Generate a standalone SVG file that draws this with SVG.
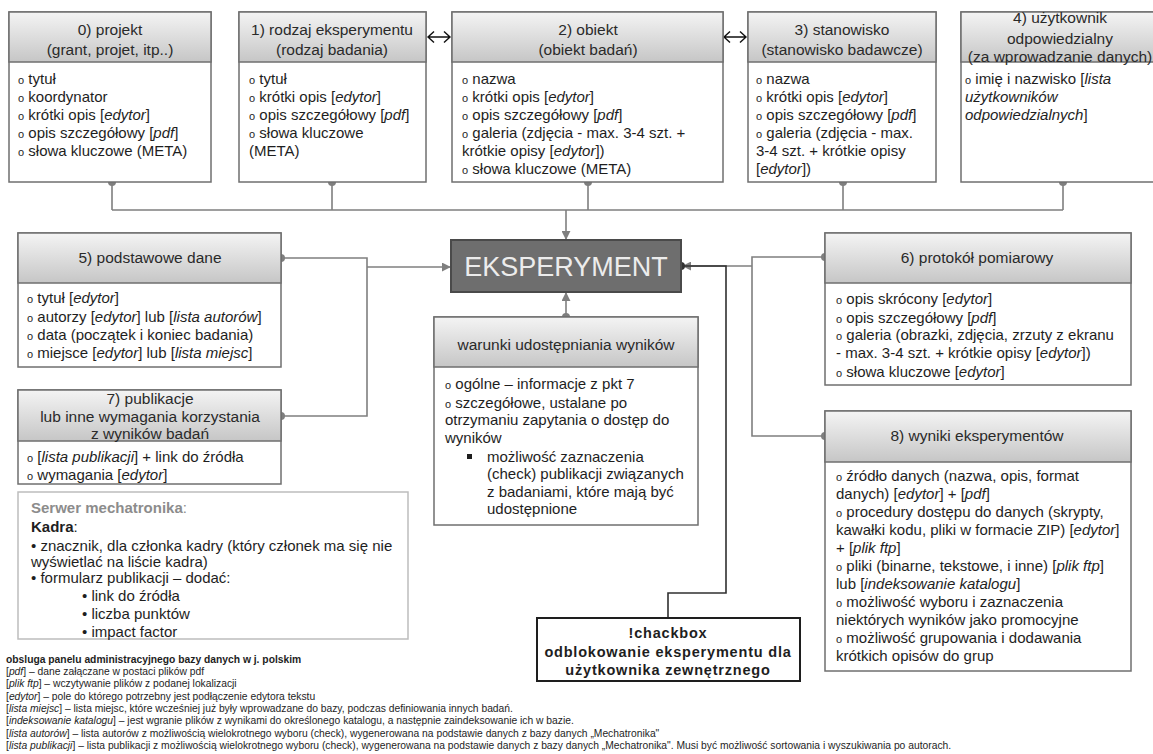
<svg xmlns="http://www.w3.org/2000/svg" width="1153" height="754" viewBox="0 0 1153 754">
<defs>
<linearGradient id="hg" x1="0" y1="0" x2="0" y2="1">
<stop offset="0" stop-color="#f4f4f4"/>
<stop offset="1" stop-color="#c6c6c6"/>
</linearGradient>
<marker id="ar" viewBox="0 0 10 10" refX="9" refY="5" markerWidth="9" markerHeight="9" markerUnits="userSpaceOnUse" orient="auto">
<path d="M0,0 L10,5 L0,10 z" fill="#7f7f7f"/>
</marker>
</defs>
<style>
text{font-family:"Liberation Sans",Arial,sans-serif;fill:#1e1e1e}
.fr{fill:#fff;stroke:#6f6f6f;stroke-width:1.5}
.hd{fill:url(#hg);stroke:#6f6f6f;stroke-width:1.5}
.ht{font-size:15.5px;text-anchor:middle;fill:#2a2a2a}
.bt{font-size:15px}
.o{font-size:11px}
.i{font-style:italic}
.cn{fill:none;stroke:#7f7f7f;stroke-width:1.6}
.dk{fill:none;stroke:#303030;stroke-width:1.6}
.dot{fill:#7f7f7f}
.ft{font-size:10.3px}
.ch{fill:none;stroke:#111;stroke-width:1.4}
.cb{font-size:14.5px;font-weight:bold;text-anchor:middle;letter-spacing:0.8px}
</style>

<g id="connectors">
<path class="cn" d="M112,182 V210 M332,182 V210 M588,182 V210 M843,182 V210 M1063,182 V210 M112,210 H1063"/>
<path class="cn" d="M566,210 V239" marker-end="url(#ar)"/>
<path class="cn" d="M281,258 H367 V416 H281"/>
<path class="cn" d="M367,267 H450" marker-end="url(#ar)"/>
<path class="cn" d="M566,317 V293" marker-end="url(#ar)"/>
<path class="cn" d="M825,257 H752 V436 H825"/>
<path class="cn" d="M752,266 H683" marker-end="url(#ar)"/>
<path class="dk" d="M681,266 H726 V593 H668 V618"/>
<path class="ch" d="M428,37 H450 M434,31.5 L428,37 L434,42.5 M444,31.5 L450,37 L444,42.5"/>
<path class="ch" d="M724,37 H746 M730,31.5 L724,37 L730,42.5 M740,31.5 L746,37 L740,42.5"/>
<circle class="dot" cx="112" cy="182" r="4"/>
<circle class="dot" cx="332" cy="182" r="4"/>
<circle class="dot" cx="588" cy="182" r="4"/>
<circle class="dot" cx="843" cy="182" r="4"/>
<circle class="dot" cx="1063" cy="182" r="4"/>
<circle class="dot" cx="281" cy="258" r="4"/>
<circle class="dot" cx="281" cy="416" r="4"/>
<circle class="dot" cx="566" cy="317" r="4"/>
<circle class="dot" cx="825" cy="257" r="4"/>
<circle class="dot" cx="825" cy="436" r="4"/>
<circle cx="681" cy="266" r="4" fill="#333"/>
</g>

<g id="n0">
<rect class="fr" x="9" y="12" width="202" height="170"/>
<rect class="hd" x="9" y="12" width="202" height="50"/>
<text class="ht" x="110" y="35">0) projekt</text>
<text class="ht" x="110" y="55">(grant, projet, itp..)</text>
<text class="bt" x="18" y="84"><tspan class="o">o</tspan> tytuł</text>
<text class="bt" x="18" y="102"><tspan class="o">o</tspan> koordynator</text>
<text class="bt" x="18" y="120"><tspan class="o">o</tspan> krótki opis [<tspan class="i">edytor</tspan>]</text>
<text class="bt" x="18" y="138"><tspan class="o">o</tspan> opis szczegółowy [<tspan class="i">pdf</tspan>]</text>
<text class="bt" x="18" y="156"><tspan class="o">o</tspan> słowa kluczowe (META)</text>
</g>

<g id="n1">
<rect class="fr" x="239" y="12" width="187" height="170"/>
<rect class="hd" x="239" y="12" width="187" height="50"/>
<text class="ht" x="332" y="35">1) rodzaj eksperymentu</text>
<text class="ht" x="332" y="55">(rodzaj badania)</text>
<text class="bt" x="249" y="84"><tspan class="o">o</tspan> tytuł</text>
<text class="bt" x="249" y="102"><tspan class="o">o</tspan> krótki opis [<tspan class="i">edytor</tspan>]</text>
<text class="bt" x="249" y="120"><tspan class="o">o</tspan> opis szczegółowy [<tspan class="i">pdf</tspan>]</text>
<text class="bt" x="249" y="138"><tspan class="o">o</tspan> słowa kluczowe</text>
<text class="bt" x="249" y="156">(META)</text>
</g>

<g id="n2">
<rect class="fr" x="452" y="12" width="271" height="170"/>
<rect class="hd" x="452" y="12" width="271" height="50"/>
<text class="ht" x="588" y="35">2) obiekt</text>
<text class="ht" x="588" y="55">(obiekt badań)</text>
<text class="bt" x="462" y="84"><tspan class="o">o</tspan> nazwa</text>
<text class="bt" x="462" y="102"><tspan class="o">o</tspan> krótki opis [<tspan class="i">edytor</tspan>]</text>
<text class="bt" x="462" y="120"><tspan class="o">o</tspan> opis szczegółowy [<tspan class="i">pdf</tspan>]</text>
<text class="bt" x="462" y="138"><tspan class="o">o</tspan> galeria (zdjęcia - max. 3-4 szt. +</text>
<text class="bt" x="462" y="156">krótkie opisy [<tspan class="i">edytor</tspan>])</text>
<text class="bt" x="462" y="174"><tspan class="o">o</tspan> słowa kluczowe (META)</text>
</g>

<g id="n3">
<rect class="fr" x="748" y="12" width="188" height="170"/>
<rect class="hd" x="748" y="12" width="188" height="50"/>
<text class="ht" x="842" y="35">3) stanowisko</text>
<text class="ht" x="842" y="55">(stanowisko badawcze)</text>
<text class="bt" x="756" y="84"><tspan class="o">o</tspan> nazwa</text>
<text class="bt" x="756" y="102"><tspan class="o">o</tspan> krótki opis [<tspan class="i">edytor</tspan>]</text>
<text class="bt" x="756" y="120"><tspan class="o">o</tspan> opis szczegółowy [<tspan class="i">pdf</tspan>]</text>
<text class="bt" x="756" y="138"><tspan class="o">o</tspan> galeria (zdjęcia - max.</text>
<text class="bt" x="756" y="156">3-4 szt. + krótkie opisy</text>
<text class="bt" x="756" y="174">[<tspan class="i">edytor</tspan>])</text>
</g>

<g id="n4">
<rect class="fr" x="961" y="12" width="210" height="170"/>
<rect class="hd" x="961" y="12" width="210" height="50"/>
<text class="ht" x="1060" y="23">4) użytkownik</text>
<text class="ht" x="1060" y="44">odpowiedzialny</text>
<text class="ht" x="1060" y="62">(za wprowadzanie danych)</text>
<text class="bt" x="965" y="84"><tspan class="o">o</tspan> imię i nazwisko [<tspan class="i">lista</tspan></text>
<text class="bt i" x="965" y="102">użytkowników</text>
<text class="bt" x="965" y="120"><tspan class="i">odpowiedzialnych</tspan>]</text>
</g>

<g id="eksperyment">
<rect x="451" y="240" width="230" height="52" fill="#6e6e6e" stroke="#4a4a4a" stroke-width="2"/>
<text x="566" y="276" font-size="27" text-anchor="middle" style="fill:#ececec">EKSPERYMENT</text>
</g>

<g id="n5">
<rect class="fr" x="18" y="233" width="263" height="134"/>
<rect class="hd" x="18" y="233" width="263" height="50"/>
<text class="ht" x="150" y="263">5) podstawowe dane</text>
<text class="bt" x="27" y="303"><tspan class="o">o</tspan> tytuł [<tspan class="i">edytor</tspan>]</text>
<text class="bt" x="27" y="322"><tspan class="o">o</tspan> autorzy [<tspan class="i">edytor</tspan>] lub [<tspan class="i">lista autorów</tspan>]</text>
<text class="bt" x="27" y="340"><tspan class="o">o</tspan> data (początek i koniec badania)</text>
<text class="bt" x="27" y="358"><tspan class="o">o</tspan> miejsce [<tspan class="i">edytor</tspan>] lub [<tspan class="i">lista miejsc</tspan>]</text>
</g>

<g id="n7">
<rect class="fr" x="18" y="390" width="263" height="94"/>
<rect class="hd" x="18" y="390" width="263" height="51"/>
<text class="ht" x="150" y="404">7) publikacje</text>
<text class="ht" x="150" y="422">lub inne wymagania korzystania</text>
<text class="ht" x="150" y="439">z wyników badań</text>
<text class="bt" x="27" y="462"><tspan class="o">o</tspan> [<tspan class="i">lista publikacji</tspan>] + link do źródła</text>
<text class="bt" x="27" y="480"><tspan class="o">o</tspan> wymagania [<tspan class="i">edytor</tspan>]</text>
</g>

<g id="serwer">
<rect x="18" y="492" width="390" height="147" fill="#fff" stroke="#bdbdbd" stroke-width="1.5"/>
<text class="bt" x="31" y="513"><tspan font-weight="bold" style="fill:#8c8c8c">Serwer mechatronika</tspan><tspan style="fill:#8c8c8c">:</tspan></text>
<text class="bt" x="31" y="532"><tspan font-weight="bold">Kadra</tspan>:</text>
<text class="bt" x="31" y="551">• znacznik, dla członka kadry (który członek ma się nie</text>
<text class="bt" x="31" y="567">wyświetlać na liście kadra)</text>
<text class="bt" x="31" y="583">• formularz publikacji – dodać:</text>
<text class="bt" x="82" y="601">• link do źródła</text>
<text class="bt" x="82" y="619">• liczba punktów</text>
<text class="bt" x="82" y="637">• impact factor</text>
</g>

<g id="warunki">
<rect class="fr" x="434" y="317" width="264" height="208"/>
<rect class="hd" x="434" y="317" width="264" height="50"/>
<text class="ht" x="566" y="350">warunki udostępniania wyników</text>
<text class="bt" x="445" y="389"><tspan class="o">o</tspan> ogólne – informacje z pkt 7</text>
<text class="bt" x="445" y="408"><tspan class="o">o</tspan> szczegółowe, ustalane po</text>
<text class="bt" x="445" y="425">otrzymaniu zapytania o dostęp do</text>
<text class="bt" x="445" y="443">wyników</text>
<rect x="467" y="454" width="5" height="5" fill="#1e1e1e"/>
<text class="bt" x="487" y="462">możliwość zaznaczenia</text>
<text class="bt" x="487" y="479">(check) publikacji związanych</text>
<text class="bt" x="487" y="497">z badaniami, które mają być</text>
<text class="bt" x="487" y="514">udostępnione</text>
</g>

<g id="n6">
<rect class="fr" x="825" y="233" width="306" height="152"/>
<rect class="hd" x="825" y="233" width="306" height="50"/>
<text class="ht" x="977" y="263">6) protokół pomiarowy</text>
<text class="bt" x="836" y="304"><tspan class="o">o</tspan> opis skrócony [<tspan class="i">edytor</tspan>]</text>
<text class="bt" x="836" y="323"><tspan class="o">o</tspan> opis szczegółowy [<tspan class="i">pdf</tspan>]</text>
<text class="bt" x="836" y="340"><tspan class="o">o</tspan> galeria (obrazki, zdjęcia, zrzuty z ekranu</text>
<text class="bt" x="836" y="358">- max. 3-4 szt. + krótkie opisy [<tspan class="i">edytor</tspan>])</text>
<text class="bt" x="836" y="377"><tspan class="o">o</tspan> słowa kluczowe [<tspan class="i">edytor</tspan>]</text>
</g>

<g id="n8">
<rect class="fr" x="825" y="411" width="306" height="260"/>
<rect class="hd" x="825" y="411" width="306" height="51"/>
<text class="ht" x="977" y="441">8) wyniki eksperymentów</text>
<text class="bt" x="836" y="481"><tspan class="o">o</tspan> źródło danych (nazwa, opis, format</text>
<text class="bt" x="836" y="499">danych) [<tspan class="i">edytor</tspan>] + [<tspan class="i">pdf</tspan>]</text>
<text class="bt" x="836" y="517"><tspan class="o">o</tspan> procedury dostępu do danych (skrypty,</text>
<text class="bt" x="836" y="535">kawałki kodu, pliki w formacie ZIP) [<tspan class="i">edytor</tspan>]</text>
<text class="bt" x="836" y="553">+ [<tspan class="i">plik ftp</tspan>]</text>
<text class="bt" x="836" y="571"><tspan class="o">o</tspan> pliki (binarne, tekstowe, i inne) [<tspan class="i">plik ftp</tspan>]</text>
<text class="bt" x="836" y="589">lub [<tspan class="i">indeksowanie katalogu</tspan>]</text>
<text class="bt" x="836" y="607"><tspan class="o">o</tspan> możliwość wyboru i zaznaczenia</text>
<text class="bt" x="836" y="625">niektórych wyników jako promocyjne</text>
<text class="bt" x="836" y="643"><tspan class="o">o</tspan> możliwość grupowania i dodawania</text>
<text class="bt" x="836" y="661">krótkich opisów do grup</text>
</g>

<g id="chackbox">
<rect x="537" y="618" width="263" height="63" fill="#fff" stroke="#1e1e1e" stroke-width="2"/>
<text class="cb" x="668" y="638">!chackbox</text>
<text class="cb" x="668" y="657">odblokowanie eksperymentu dla</text>
<text class="cb" x="668" y="675">użytkownika zewnętrznego</text>
</g>

<g id="legend">
<text class="ft" x="6" y="663" font-weight="bold">obsluga panelu administracyjnego bazy danych w j. polskim</text>
<text class="ft" x="6" y="675">[<tspan class="i">pdf</tspan>] – dane  załączane w postaci plików pdf</text>
<text class="ft" x="6" y="687">[<tspan class="i">plik ftp</tspan>] – wczytywanie plików z podanej lokalizacji</text>
<text class="ft" x="6" y="700">[<tspan class="i">edytor</tspan>] – pole do którego potrzebny jest podłączenie edytora tekstu</text>
<text class="ft" x="6" y="712">[<tspan class="i">lista miejsc</tspan>] – lista miejsc, które wcześniej już były wprowadzane do bazy, podczas definiowania innych badań.</text>
<text class="ft" x="6" y="724">[<tspan class="i">indeksowanie katalogu</tspan>] – jest wgranie plików z wynikami do określonego katalogu, a następnie zaindeksowanie ich w bazie.</text>
<text class="ft" x="6" y="737">[<tspan class="i">lista autorów</tspan>] – lista autorów z możliwością wielokrotnego wyboru (check), wygenerowana na podstawie danych z bazy danych „Mechatronika"</text>
<text class="ft" x="6" y="749">[<tspan class="i">lista publikacji</tspan>] – lista publikacji z możliwością wielokrotnego wyboru (check), wygenerowana na podstawie danych z bazy danych „Mechatronika". Musi być możliwość sortowania i wyszukiwania po autorach.</text>
</g>
</svg>
